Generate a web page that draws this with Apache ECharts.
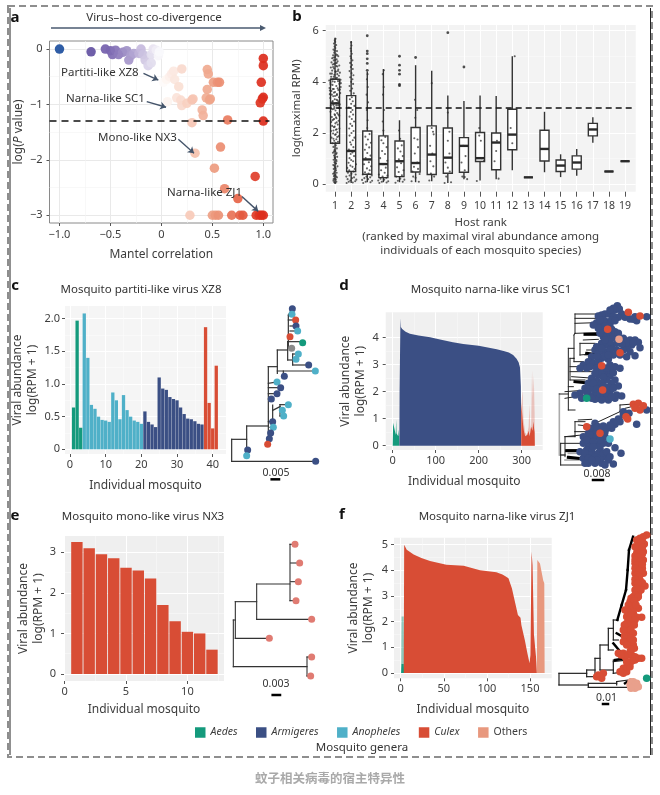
<!DOCTYPE html>
<html><head><meta charset="utf-8">
<style>html,body{margin:0;padding:0;background:#fff}#c{width:660px;height:795px}</style>
<script src="https://cdn.jsdelivr.net/npm/echarts@6/dist/echarts.min.js"></script>
</head><body><div id="c"></div>
<script>
const FONT='"Noto Sans",sans-serif';
const GENUS=['Aedes','Armigeres','Anopheles','Culex','Others'];
const GCOL=['#149a7c','#3b4f84','#4fb0c8','#d84d35','#e8987e','#8a8a8a','#e07b72','#e9a08c'];

// Panel a
const mantelPoints=[[-1,0],[-.69,-.05],[-.55,0],[-.5,-.03],[-.48,-.1],[-.45,-.02],[-.42,-.1],[-.38,-.06],[-.34,-.03],[-.32,-.2],[-.3,-.12],[-.27,-.08],[-.22,-.08],[-.2,0],[-.18,-.1],[-.16,-.2],[-.13,-.3],[-.1,-.1],[-.1,-.25],[-.08,0],[-.05,-.02],[-.03,-.12],[-.02,-.05],[.02,-.6],[.05,-.55],[.08,-.5],[.1,-.45],[.12,-.4],[.13,-.55],[.17,-.68],[.2,-.36],[.06,-.95],[.15,-.88],[.19,-.92],[.2,-1.02],[.25,-.98],[.3,-.92],[.31,-.9],[.3,-1.33],[.4,-1.1],[.41,-1.2],[.45,-.37],[.46,-.45],[.45,-.73],[.44,-.88],[.47,-.92],[.48,-.9],[.51,-.6],[.55,-.6],[.57,-.6],[.65,-1.28],[.58,-1.77],[.33,-1.88],[.52,-2.15],[.62,-2.52],[.75,-2.7],[.92,-2.3],[.28,-3],[.5,-3],[.53,-3],[.56,-3],[.69,-3],[.77,-3],[.8,-3],[.93,-3],[.96,-3],[.98,-3],[1,-3],[1,-.17],[1,-.3],[.98,-.6],[1,-.87],[.99,-.9],[.97,-.97],[1,-1.3]];
const mantelArrows=[[-.176,-.44,-.03,-.56],[-.144,-.95,.046,-1.05],[.166,-1.63,.32,-1.88],[.79,-2.66,.95,-2.93]];

// Panel b: [rank, low whisker, q1, median, q3, high whisker]
const hostBoxes=[[1,.02,1.6,3.16,4.1,5.72],[2,.05,.5,1.3,3.46,5.6],[3,.08,.39,.97,2.08,4.4],[4,.08,.26,.79,1.89,4.5],[5,.08,.3,.9,1.69,2.5],[6,.08,.48,.83,2.22,4.65],[7,.12,.38,1.16,2.28,4.43],[8,.05,.43,1.04,2.2,3.47],[9,.2,.47,1.5,1.82,3.25],[10,.15,.89,1.02,2.02,3.47],[11,.2,.57,1.63,2,3.45],[12,.55,1.35,1.94,2.93,5],[13,.27,.27,.27,.27,.27],[14,.47,.91,1.38,2.11,2.83],[15,.28,.5,.73,.95,1.17],[16,.33,.59,.85,1.11,1.38],[17,1.62,1.89,2.14,2.38,2.62],[18,.5,.5,.5,.5,.5],[19,.9,.9,.9,.9,.9]];
const hostOutliers=[[3,4.45],[3,4.72],[3,4.9],[3,5.1],[3,5.2],[3,5.8],[5,3.85],[5,3.9],[5,4.3],[5,4.45],[5,4.65],[5,5],[6,4.95],[8,5.92],[9,4.58]];
const rank1Dots=[[1.02,.05],[.95,.08],[1.08,.1],[.9,.14],[1.05,.18],[.98,.22],[1.12,.27],[.93,.31],[1.03,.36],[.88,.41],[1.1,.45],[.97,.5],[1.06,.55],[.92,.6],[1.01,.66],[1.15,.7],[.89,.75],[1.04,.8],[.96,.86],[1.09,.9],[.91,.96],[1,1.02],[1.13,1.07],[.94,1.12],[1.07,1.18],[.87,1.23],[1.02,1.29],[.97,1.34],[1.11,1.4],[.9,1.46],[1.05,1.52],[.84,1.6],[1.18,1.66],[.95,1.7],[1.08,1.76],[.78,1.82],[1.24,1.88],[1,1.93],[.88,1.98],[1.14,2.03],[.75,2.08],[1.05,2.13],[1.27,2.18],[.93,2.23],[.82,2.28],[1.17,2.33],[1.02,2.38],[.76,2.43],[1.22,2.48],[.9,2.53],[1.09,2.58],[.8,2.63],[1.26,2.68],[.97,2.73],[1.13,2.78],[.72,2.83],[1.03,2.88],[.86,2.93],[1.2,2.98],[.95,3.02],[.74,3.07],[1.29,3.12],[1.07,3.17],[.83,3.22],[1.16,3.27],[.98,3.32],[.7,3.37],[1.25,3.4],[.89,3.44],[1.11,3.48],[.68,3.52],[1.32,3.56],[1,3.6],[.78,3.64],[1.2,3.68],[.92,3.72],[.66,3.76],[1.35,3.8],[1.08,3.84],[.84,3.88],[1.27,3.92],[.71,3.96],[.98,4],[1.18,4.03],[.64,4.05],[1.34,4.08],[.88,4.12],[1.12,4.16],[.76,4.2],[1.24,4.24],[.96,4.28],[.7,4.32],[1.3,4.36],[1.05,4.4],[.82,4.44],[1.2,4.48],[.94,4.52],[.74,4.56],[1.14,4.6],[1.26,4.64],[.86,4.68],[1.03,4.72],[.78,4.76],[1.16,4.8],[.92,4.84],[1.1,4.88],[.82,4.92],[1,4.96],[1.2,5],[.88,5.04],[1.06,5.08],[.95,5.14],[1.12,5.2],[.9,5.26],[1.02,5.32],[.97,5.38],[1.07,5.44],[.93,5.5],[1.01,5.56],[.98,5.62],[1.03,5.68],[1.2,3.08],[.8,3.5],[.9,2.1],[1.1,2.42],[1,3.45],[1.16,3.75],[.85,4.02],[1,2.7],[.9,3.1],[1.1,3.3],[1.05,1.95],[.94,2.55],[1.22,3.22],[.78,2.95],[.86,3.72],[1.14,4.3],[.96,.35],[1.04,.62],[1.06,.3],[.98,1.05],[.72,3.9],[.76,4.1],[.68,3.66],[1.3,3.7],[1.28,4.02],[1.36,3.95],[.8,4.32],[.88,4.58],[1.08,4.62],[1.18,4.42],[1.1,4.74],[.9,4.95],[1.14,5.05],[.94,4.7],[1.02,4.85],[.98,5.22],[1.04,5.02],[1.02,4.4],[.92,4.2],[1.06,4.14],[.84,2.5],[1.1,2.15],[1.2,2.72],[.94,2.95],[1.06,2.62],[.86,3.25],[1.12,3.52],[.93,3.58],[1.08,3.08],[.98,2.25],[1.14,1.85],[.9,1.78],[1.03,1.62],[.96,.72],[1.08,.95],[.93,1.28],[1.1,1.22],[.94,.44],[1.06,.82],[.91,.2]];
const rank2Dots=[[1.72,.05],[2.1,.07],[1.85,.1],[2.25,.12],[1.95,.15],[2.32,.18],[1.78,.2],[2.05,.24],[2.18,.27],[1.7,.3],[1.9,.34],[2.28,.38],[2.02,.41],[1.8,.45],[2.14,.5],[1.88,.55],[2.22,.6],[1.76,.64],[2.08,.68],[1.95,.73],[2.3,.78],[1.84,.84],[2.12,.9],[2,.95],[1.9,1.02],[2.18,1.1],[1.97,1.18],[2.08,1.24],[1.86,1.36],[2.14,1.45],[2,1.55],[1.94,1.64],[2.1,1.72],[2.2,1.82],[1.9,1.9],[2.02,2],[2.15,2.08],[1.88,2.18],[2.06,2.28],[1.95,2.36],[2.18,2.45],[2.04,2.55],[1.9,2.64],[2.12,2.72],[1.98,2.82],[2.08,2.9],[1.86,3],[2.2,3.06],[2,3.14],[2.1,3.24],[1.92,3.32],[2.04,3.4],[2.16,3.55],[1.94,3.65],[2.06,3.74],[1.9,3.84],[2.12,3.92],[2,4],[2.08,4.1],[1.94,4.18],[2.14,4.26],[2.02,4.34],[1.9,4.42],[2.1,4.5],[1.98,4.58],[2.05,4.66],[1.94,4.74],[2.08,4.84],[2,4.92],[1.96,5],[2.04,5.1],[2,5.2],[1.97,5.3],[2.02,5.42],[2,5.54]];
const rank3Dots=[[2.75,.05],[3.2,.08],[2.9,.1],[3.3,.14],[2.68,.17],[3.05,.2],[2.82,.24],[3.18,.27],[2.95,.3],[3.28,.34],[2.72,.38],[3.08,.42],[2.86,.47],[3.15,.55],[2.98,.62],[3.24,.7],[2.8,.78],[3.1,.86],[2.9,1.02],[3.2,1.12],[3,1.22],[2.85,1.35],[3.12,1.44],[2.94,1.55],[3.22,1.62],[3.04,1.75],[2.88,1.86],[3.14,1.96],[3,2.2],[3.02,2.5],[2.97,2.9],[3.05,3.2],[2.96,3.5],[3.03,3.8],[2.98,4.1],[3.02,4.3]];
const rank4Dots=[[3.75,.05],[4.2,.07],[3.9,.1],[4.3,.12],[3.68,.15],[4.05,.18],[3.82,.22],[4.18,.25],[3.95,.3],[4.25,.34],[3.72,.38],[4.08,.45],[3.86,.55],[4.15,.65],[3.98,.78],[4.24,.92],[3.8,1.02],[4.1,1.18],[3.92,1.3],[4.2,1.45],[4,1.6],[3.88,1.72],[4.12,1.85],[4,2.1],[3.96,2.45],[4.04,2.9],[3.98,3.5],[4.02,3.8],[3.96,4.3],[4.03,4.45]];
const rank5Dots=[[4.75,.06],[5.2,.1],[4.9,.14],[5.3,.18],[5.05,.22],[4.8,.3],[5.15,.35],[4.95,.48],[5.25,.55],[4.85,.66],[5.1,.82],[4.96,.98],[5.2,1.1],[5.06,1.28],[4.9,1.4],[5.14,1.52],[5.04,1.78],[4.97,2.1]];
const rank6Dots=[[5.75,.12],[6.2,.1],[5.85,.3],[6.25,.4],[6,.25],[5.8,.5],[6.15,.6],[5.9,.68],[6.1,.85],[5.95,1.2],[6.15,1.45],[5.92,1.8],[6.12,1.75],[5.98,2.6],[6.1,2.9],[5.96,3.3]];
const rank7Dots=[[6.85,.15],[7.15,.3],[6.95,.42],[7.1,.7],[6.92,.9],[7.04,1.2],[6.9,1.5],[7.12,1.95],[7,2.2],[7.08,2.05],[7,3.95]];
const rank8Dots=[[7.8,.05],[8.2,.08],[7.9,.3],[8.12,.5],[8,.65],[7.85,.85],[8.1,1.2],[8,1.7],[8.1,2.05],[8,2.8]];
const rank9Dots=[[8.9,.3],[9.2,.2],[9.05,.28],[8.85,.85],[9.1,1.1],[8.95,1.5],[9.05,.55]];
const rank10Dots=[[9.8,.13],[10.25,.92],[10.1,1.02],[9.95,1.9],[10.05,1.7],[9.95,2.2]];
const rank11Dots=[[11.15,.22],[11,1.3],[10.9,.9],[11.05,1.7]];
const rank12Dots=[[12,1.6],[11.9,2.2],[12.15,5]];

// Panels c-f bars and areas
const xz8Values=[.64,1.97,.33,2.08,1.4,.68,.62,.5,.45,.44,.42,.87,.75,.46,.83,.6,.5,.44,.42,.39,.58,.42,.38,.34,1.1,.93,.91,.8,.77,.75,.64,.54,.47,.46,.43,.39,.38,1.87,.71,.32,1.28];
const xz8Genus=[0,0,0,2,2,2,2,2,2,2,2,2,2,2,2,2,2,2,2,2,1,1,1,1,1,1,1,1,1,1,1,1,1,1,1,1,1,3,3,3,3];
const nx3Values=[3.25,3.1,2.95,2.85,2.62,2.55,2.35,1.7,1.3,1.04,1,.6];
const sc1Aedes=[[0,0],[1,.85],[3,.7],[5,.55],[7,.4],[8,.97],[9,.45],[11,.5],[13,.35],[14,.6],[15,.4],[15.5,0]];
const sc1Armigeres=[[15.5,0],[16,2],[17.5,2],[18,4.72],[19,4.4],[22,4.32],[30,4.22],[40,4.15],[60,4.08],[87,4.02],[110,3.93],[140,3.83],[164,3.77],[200,3.7],[242,3.57],[260,3.5],[270,3.45],[280,3.36],[288,3.22],[293,3.08],[296,2.9],[298,2.2],[299,0]];
const sc1CulexPale=[[299,0],[299,1.55],[302,2.05],[304,1],[308,.5],[312,.4],[316,.7],[318,1.55],[320,.6],[322,.8],[324,2.8],[326,1.8],[328,2.6],[330,1.2],[330.5,0]];
const sc1Culex=[[299,0],[299,1.55],[301,1.2],[303,.8],[305,.55],[308,.35],[311,.3],[313,.4],[316,.55],[318,.35],[320,.5],[322,.7],[325,.55],[327,.9],[329,.6],[330,.5],[330.5,0]];
const zj1AnoPale=[[.5,0],[1,2.2],[3.5,2.2],[4,0]];
const zj1Ano=[[.5,0],[1,.35],[3.5,.35],[4,0]];
const zj1Culex=[[3.5,0],[4,5],[7,4.8],[15,4.62],[24,4.48],[34,4.36],[53,4.22],[73,4.18],[92,4],[111,3.92],[118,3.84],[121,3.78],[125,3.69],[129,3.3],[133,2.71],[136,2.26],[139,2.15],[140,1.87],[144,1.29],[147,.77],[149.5,.38],[150.5,.7],[151.2,.64],[151.8,4.73],[153,4.2],[154,4.14],[154.6,1.5],[157,.62],[158,0]];
const zj1Others=[[158,0],[158.5,4.4],[161.6,4.27],[165.4,3.6],[166.6,3.5],[167,0]];

// Trees: [branch position, tip order, genus] and [x1, y1, x2, y2]
const treeCTips=[[877,116,1],[876,133,2],[887,150,3],[888,168,1],[893,183,2],[870,200,3],[908,218,0],[875,235,5],[895,252,2],[888,268,2],[926,285,1],[946,303,2],[853,319,1],[831,336,2],[842,353,1],[831,371,1],[814,387,1],[865,404,2],[847,421,2],[851,438,2],[818,455,1],[820,472,2],[812,489,1],[808,506,1],[803,523,3],[743,540,1],[740,557,2],[947,574,1]];
const treeCEdges=[[695,508,695,574],[695,574,947,574],[695,508,740,508],[740,468,740,548],[740,548,743,540],[740,468,805,468],[805,290,805,523],[805,290,832,290],[832,240,832,310],[832,240,863,240],[863,215,863,270],[863,215,908,215],[865,135,865,235],[865,135,877,116],[865,150,887,150],[870,168,888,168],[870,183,893,183],[865,200,870,200],[863,270,878,270],[878,252,878,285],[878,252,895,252],[878,268,888,268],[878,285,926,285],[832,303,946,303],[850,303,850,319],[805,340,831,336],[805,353,842,353],[805,371,831,371],[805,387,814,387],[818,405,818,470],[818,421,840,410],[840,404,865,404],[840,404,840,438],[840,421,847,421],[840,438,851,438],[805,455,818,455],[810,472,820,472],[805,489,812,489],[805,506,808,506]];
const treeDTips=[[187,17,1],[193,27,1],[180,30,1],[170,38,1],[150,42,1],[160,42,1],[200,42,1],[210,52,1],[225,57,1],[240,50,1],[275,50,1],[245,62,1],[190,52,1],[125,68,1],[140,72,1],[155,65,1],[165,72,1],[140,85,1],[130,85,1],[150,98,1],[175,98,1],[165,108,1],[205,115,1],[225,120,1],[240,120,1],[250,127,1],[255,143,1],[230,135,1],[215,140,1],[205,150,1],[240,167,1],[215,170,1],[185,150,1],[170,140,1],[155,135,1],[140,130,1],[120,150,1],[130,160,1],[150,155,1],[175,165,1],[160,178,1],[140,175,1],[110,170,1],[100,185,1],[85,195,1],[75,205,1],[95,205,1],[115,190,1],[165,195,1],[180,200,1],[195,205,1],[150,220,1],[165,228,1],[180,240,1],[190,258,1],[170,250,1],[155,240,1],[130,225,1],[110,235,1],[100,250,1],[90,265,1],[110,265,1],[130,255,1],[165,275,1],[185,285,1],[200,288,1],[120,280,1],[100,282,1],[75,280,1],[60,285,1],[150,290,1],[130,295,1],[160,300,1],[180,295,1],[120,298,1],[80,295,1],[175,25,1],[165,30,1],[140,45,1],[130,48,1],[175,50,1],[215,45,1],[235,58,1],[145,60,1],[135,60,1],[170,60,1],[180,62,1],[115,75,1],[150,78,1],[170,88,1],[180,95,1],[160,95,1],[145,110,1],[135,100,1],[175,112,1],[190,100,1],[215,128,1],[235,128,1],[200,132,1],[185,130,1],[165,125,1],[150,120,1],[125,140,1],[195,165,1],[225,155,1],[165,150,1],[140,145,1],[125,170,1],[150,168,1],[160,165,1],[130,188,1],[105,200,1],[125,205,1],[150,205,1],[165,210,1],[140,215,1],[120,220,1],[155,205,1],[175,218,1],[145,232,1],[125,242,1],[140,250,1],[115,250,1],[160,262,1],[145,258,1],[175,265,1],[125,268,1],[95,275,1],[135,283,1],[155,280,1],[110,295,1],[140,300,1],[170,290,1],[275,330,1],[222,340,1],[205,345,1],[190,357,1],[180,373,1],[245,373,1],[170,385,1],[155,385,1],[120,370,1],[130,380,1],[115,395,1],[100,400,1],[85,410,1],[110,415,1],[150,410,1],[145,430,1],[180,443,1],[198,460,1],[125,435,1],[100,435,1],[85,430,1],[95,450,1],[110,455,1],[130,460,1],[150,470,1],[160,480,1],[175,492,1],[140,490,1],[120,490,1],[100,490,1],[85,475,1],[75,455,1],[205,335,1],[195,365,1],[175,365,1],[165,375,1],[145,378,1],[135,390,1],[150,395,1],[120,385,1],[105,385,1],[105,405,1],[125,410,1],[135,420,1],[95,420,1],[115,425,1],[160,430,1],[135,445,1],[115,440,1],[105,465,1],[120,470,1],[135,475,1],[145,460,1],[90,460,1],[100,475,1],[155,455,1],[125,480,1],[165,470,1],[110,480,1],[90,490,1],[150,495,1],[165,417,2],[95,295,0],[235,313,3],[250,310,3],[265,317,3],[240,325,3],[255,330,3],[213,350,3],[218,357,3],[135,400,3],[95,380,3],[220,37,3],[255,48,3],[158,88,3],[195,158,3],[140,197,3],[143,270,3],[192,118,7]];
const treeDEdges=[[60,42,150,42],[60,42,60,100],[60,55,125,55],[60,70,125,68],[60,100,125,98],[57,105,57,185],[57,105,60,100],[75,130,120,130],[75,130,75,165],[75,165,130,160],[85,120,130,118],[95,150,150,150],[57,185,85,185],[45,200,75,200],[45,175,45,240],[45,240,90,240],[45,215,110,215],[50,230,120,235],[40,260,55,260],[30,275,100,270],[30,295,90,285],[55,175,57,175],[45,175,57,175],[40,145,57,145],[40,145,40,330],[13,282,40,282],[40,330,60,330],[60,365,60,395],[60,365,90,365],[70,360,110,358],[70,375,100,378],[60,395,120,395],[195,315,195,335],[195,315,235,312],[195,335,225,340],[210,325,250,315],[17,430,85,430],[17,430,17,495],[17,495,85,495],[30,410,80,405],[30,410,30,470],[35,450,80,450],[60,395,60,410],[30,410,60,410],[17,465,30,465],[120,370,195,335],[135,400,190,357]];
const treeDThick=[[95,160,130,165],[60,245,110,250],[90,103,130,103],[35,452,75,452],[40,472,70,475]];
const treeDGrey=[[13,282,13,465],[30,480,80,480],[65,293,95,290],[90,165,120,170],[40,460,65,460],[15,465,30,465]];
const treeFTips=[[275,15,3],[265,20,3],[255,25,3],[245,30,3],[262,35,3],[250,45,3],[268,42,3],[240,50,3],[255,60,3],[265,65,3],[245,70,3],[258,80,3],[248,90,3],[265,90,3],[240,100,3],[255,105,3],[248,115,3],[262,115,3],[240,130,3],[258,130,3],[265,130,3],[245,145,3],[255,150,3],[240,160,3],[270,168,3],[255,170,3],[240,180,3],[250,190,3],[235,200,3],[245,205,3],[225,215,3],[238,225,3],[250,235,3],[225,230,3],[210,240,3],[235,250,3],[260,262,3],[245,262,3],[215,260,3],[230,280,3],[225,290,3],[215,300,3],[220,315,3],[215,330,3],[225,340,3],[235,345,3],[238,355,3],[225,365,3],[205,370,3],[190,370,3],[230,375,3],[250,385,3],[260,385,3],[240,390,3],[225,400,3],[205,415,3],[215,425,3],[205,430,3],[130,435,3],[145,430,3],[140,445,3],[125,440,3],[250,30,3],[258,40,3],[245,55,3],[262,52,3],[252,70,3],[240,78,3],[262,72,3],[248,80,3],[240,90,3],[255,95,3],[245,105,3],[262,103,3],[240,115,3],[252,122,3],[245,135,3],[252,140,3],[240,148,3],[262,158,3],[248,160,3],[258,180,3],[245,175,3],[240,195,3],[250,200,3],[228,205,3],[238,212,3],[220,225,3],[232,238,3],[243,225,3],[218,245,3],[228,255,3],[222,270,3],[240,270,3],[215,280,3],[238,285,3],[208,285,3],[228,300,3],[205,300,3],[235,310,3],[208,318,3],[228,325,3],[205,335,3],[235,330,3],[215,345,3],[228,358,3],[220,375,3],[210,380,3],[198,375,3],[240,380,3],[232,392,3],[215,410,3],[225,410,3],[195,425,3],[135,440,3],[215,395,3],[235,455,7],[245,460,7],[225,465,7],[235,472,7],[250,470,7],[240,475,7],[228,455,7],[230,462,7],[240,465,7],[245,470,7],[228,475,7],[275,445,0]];
const treeFEdges=[[12,430,12,465],[12,430,95,430],[12,465,100,465],[100,460,100,472],[100,460,185,460],[100,472,215,472],[185,455,185,465],[185,455,235,448],[95,420,95,440],[95,420,120,420],[95,440,115,440],[120,385,120,430],[120,385,135,385],[135,345,135,420],[135,345,160,345],[135,420,175,420],[160,295,160,360],[160,295,175,295],[175,270,175,330],[175,390,175,430],[175,395,220,390],[175,430,210,425],[160,360,175,360],[175,270,190,270],[175,330,190,330]];
const treeFThick=[[234,20,222,60],[222,60,218,120],[218,120,213,180],[213,180,200,225],[200,225,187,270],[175,340,200,370],[180,390,210,385],[185,310,200,318],[210,460,225,450]];
const treeETips=[[885,133,6],[899,189,6],[895,245,6],[888,302,6],[935,358,6],[808,415,6],[935,471,6],[932,528,6]];
const treeEEdges=[[700,360,700,500],[700,500,921,500],[921,471,921,528],[921,471,935,471],[921,528,932,528],[700,360,706,360],[706,305,706,415],[706,415,808,415],[706,305,770,305],[770,252,770,358],[770,358,935,358],[770,252,870,252],[870,133,870,302],[870,133,885,133],[872,189,899,189],[872,245,895,245],[870,302,888,302]];

// Scale bars: [x1,y,x2,y]
const scaleC=[[815,628,837,628]],scaleD=[[114,540,144,540]],scaleE=[[818,585,840,585]],scaleF=[[144,522,159,522]];

const chart=echarts.init(document.getElementById('c'),null,{renderer:'canvas'});
const grids=[],xAxes=[],yAxes=[],series=[];
const M=s=>String(s).replace('-','\u2212');
function axisBase(o){
  return {type:'value',gridIndex:o.g,min:o.r[0],max:o.r[1],inverse:!!o.inverse,
    axisLine:{show:false,onZero:false},
    axisTick:{show:true,length:o.tick||3,lineStyle:{color:o.tickColor||'#555',width:1},customValues:o.ticks},
    axisLabel:{show:true,color:'#3d3d3d',fontSize:o.fs||11,fontFamily:FONT,margin:o.margin||5,customValues:o.ticks,formatter:o.fmt||(v=>String(v)),hideOverlap:false},
    splitLine:{show:true,lineStyle:{color:o.lineCol,width:o.lineW||1}},
    name:o.name,nameLocation:'middle',nameGap:o.gap,nameRotate:o.rot,
    nameTextStyle:Object.assign({color:'#3d3d3d',fontSize:o.nameFs||12,fontFamily:FONT,lineHeight:o.lh||15},o.rich?{rich:o.rich}:{})};
}
function minorAxis(g,r,vals,col){
  return {type:'value',gridIndex:g,min:r[0],max:r[1],axisLine:{show:false,onZero:false},axisLabel:{show:false},
    axisTick:{show:false,customValues:vals},splitLine:{show:true,lineStyle:{color:col,width:.6}}};
}
function panel(p){
  const g=grids.length;
  grids.push({left:p.l,top:p.t,width:p.w,height:p.h,show:true,backgroundColor:p.bg,borderWidth:p.border?1:0,borderColor:p.border||'transparent',containLabel:false});
  const xi=xAxes.length,yi=yAxes.length;
  xAxes.push(axisBase(Object.assign({g,lineCol:p.major},p.x)));
  yAxes.push(axisBase(Object.assign({g,lineCol:p.major,rot:90},p.y)));
  if(p.x.minor)xAxes.push(minorAxis(g,p.x.r,p.x.minor,p.minorCol));
  if(p.y.minor)yAxes.push(minorAxis(g,p.y.r,p.y.minor,p.minorCol));
  return {xAxisIndex:xi,yAxisIndex:yi};
}
function treePanel(l,t,w,h,xr,yr){
  const g=grids.length;
  grids.push({left:l,top:t,width:w,height:h,show:false});
  const xi=xAxes.length,yi=yAxes.length;
  xAxes.push({type:'value',gridIndex:g,min:xr[0],max:xr[1],show:false,splitLine:{show:false}});
  yAxes.push({type:'value',gridIndex:g,min:yr[0],max:yr[1],inverse:true,show:false,splitLine:{show:false}});
  return {xAxisIndex:xi,yAxisIndex:yi};
}
function edges(ax,data,color,width,z){
  series.push(Object.assign({type:'custom',silent:true,z:z||2,data,encode:{x:[0,2],y:[1,3]},clip:false,
    renderItem(params,api){
      const a=api.coord([api.value(0),api.value(1)]),b=api.coord([api.value(2),api.value(3)]);
      return {type:'line',shape:{x1:a[0],y1:a[1],x2:b[0],y2:b[1]},style:{stroke:color,lineWidth:width,lineCap:'square'}};
    }},ax));
}
function tips(ax,data,size,op){
  series.push(Object.assign({type:'scatter',silent:true,z:3,data,symbolSize:size,clip:false,
    itemStyle:{color:p=>GCOL[p.value[2]],opacity:op||1}},ax));
}
function area(ax,name,data,color,op){
  series.push(Object.assign({type:'line',name,data,showSymbol:false,silent:true,z:2,smooth:false,
    lineStyle:{width:0,color},itemStyle:{color},areaStyle:{color,opacity:op==null?1:op}},ax));
}
function bars(ax,vals,gen,w,extra){
  GENUS.forEach((n,i)=>{
    const d=[];vals.forEach((v,k)=>{if(gen[k]===i)d.push([k+1,v]);});
    if(d.length)series.push(Object.assign({type:'bar',name:n,data:d,barWidth:w,barGap:'-100%',silent:true,z:2,itemStyle:{color:GCOL[i]}},ax));
  });
}

// a
const axA=panel({l:49.5,t:41,w:223.5,h:182,bg:'#fff',border:'#8a8a8a',major:'#e9e9e9',minorCol:'#f3f3f3',
  x:{r:[-1.098,1.095],ticks:[-1,-.5,0,.5,1],minor:[-.75,-.25,.25,.75],fmt:v=>v===0?'0':M(v.toFixed(1)),name:'Mantel correlation',gap:24,margin:6},
  y:{r:[-3.14,.145],ticks:[-3,-2,-1,0],minor:[-2.5,-1.5,-.5],fmt:M,name:'{r|log(}{i|P}{r| value)}',gap:23,margin:7,rich:{r:{fontSize:12,color:'#3d3d3d',fontFamily:FONT},i:{fontSize:12,fontStyle:'italic',color:'#3d3d3d',fontFamily:FONT}}}});
series.push(Object.assign({type:'scatter',name:'Mantel',data:mantelPoints,symbolSize:9.5,z:3,silent:true,itemStyle:{opacity:.92},
  markLine:{silent:true,symbol:'none',animation:false,label:{show:false},z:5,
    data:[[{coord:[-1.098,-1.3],lineStyle:{color:'#111',width:1.6,type:[7,5]},symbol:'none'},{coord:[1.06,-1.3],symbol:'none'}]].concat(
      mantelArrows.map(a=>[{coord:[a[0],a[1]],lineStyle:{color:'#44546a',width:1.4,type:'solid'},symbol:'none'},{coord:[a[2],a[3]],symbol:'arrow',symbolSize:6}]))}},axA));

// b
const axB=panel({l:325.7,t:25,w:310,h:166.7,bg:'#f3f3f3',major:'#ffffff',minorCol:'#fafafa',
  x:{r:[.42,19.66],ticks:hostBoxes.map(b=>b[0]),fs:10.5,tick:5,margin:9,
     name:'Host rank\n(ranked by maximal viral abundance among\nindividuals of each mosquito species)',gap:24,lh:14,nameFs:11.5},
  y:{r:[-.29,6.22],ticks:[0,2,4,6],minor:[1,3,5],name:'log(maximal RPM)',gap:21,tick:3,nameFs:11.5,margin:7}});
series.push(Object.assign({type:'custom',name:'Host box',silent:true,z:2,data:hostBoxes,encode:{x:0,y:[1,2,3,4,5]},
  renderItem(params,api){
    const x=api.value(0),P=(a,b)=>api.coord([a,b]),hw=.28;
    const s={stroke:'#333',lineWidth:1.4,fill:'#fff'};
    const lo=P(x,api.value(1)),hi=P(x,api.value(5)),q1=P(x-hw,api.value(2)),q3=P(x+hw,api.value(4)),m1=P(x-hw,api.value(3)),m2=P(x+hw,api.value(3));
    const qlo=P(x,api.value(2)),qhi=P(x,api.value(4));
    return {type:'group',children:[
      {type:'line',shape:{x1:lo[0],y1:lo[1],x2:qlo[0],y2:qlo[1]},style:{stroke:'#333',lineWidth:1.4}},
      {type:'line',shape:{x1:qhi[0],y1:qhi[1],x2:hi[0],y2:hi[1]},style:{stroke:'#333',lineWidth:1.4}},
      {type:'rect',shape:{x:q1[0],y:q3[1],width:q3[0]-q1[0],height:q1[1]-q3[1]},style:s},
      {type:'line',shape:{x1:m1[0],y1:m1[1],x2:m2[0],y2:m2[1]},style:{stroke:'#2a2a2a',lineWidth:2.4}}
    ]};
  }},axB));
const allDots=[].concat(rank1Dots,rank2Dots,rank3Dots,rank4Dots,rank5Dots,rank6Dots,rank7Dots,rank8Dots,rank9Dots,rank10Dots,rank11Dots,rank12Dots);
series.push(Object.assign({type:'scatter',name:'Individuals',silent:true,z:3,data:allDots,symbolSize:2.1,itemStyle:{color:'#2f2f2f',opacity:.75}},axB));
series.push(Object.assign({type:'scatter',name:'Outliers',silent:true,z:3,data:hostOutliers,symbolSize:2.8,itemStyle:{color:'#222'},
  markLine:{silent:true,symbol:'none',animation:false,label:{show:false},lineStyle:{color:'#111',width:1.5,type:[6,4]},data:[{yAxis:3}]}},axB));

// c
const axC=panel({l:65,t:306,w:161,h:148,bg:'#f5f5f5',major:'#ffffff',minorCol:'#fbfbfb',
  x:{r:[-1.4,43.73],ticks:[0,10,20,30,40],minor:[5,15,25,35],name:'Individual mosquito',gap:24,nameFs:12},
  y:{r:[-.072,2.194],ticks:[0,.5,1,1.5,2],minor:[.25,.75,1.25,1.75],fmt:v=>v===0?'0':v.toFixed(1),name:'Viral abundance\nlog(RPM + 1)',gap:25,nameFs:12}});
bars(axC,xz8Values,xz8Genus,3.3);
const trC=treePanel(230,303.33,90,180,[690,960],[100,640]);
edges(trC,treeCEdges,'#333',1.2);
edges(trC,scaleC,'#000',2.5);
tips(trC,treeCTips,7);

// d
const axD=panel({l:385.7,t:312.3,w:157,h:137.7,bg:'#f0f0f0',major:'#ffffff',minorCol:'#f8f8f8',
  x:{r:[-16.3,348.8],ticks:[0,100,200,300],minor:[50,150,250],name:'Individual mosquito',gap:24},
  y:{r:[-.16,4.94],ticks:[0,1,2,3,4],minor:[.5,1.5,2.5,3.5],margin:7,name:'Viral abundance\nlog(RPM + 1)',gap:18}});
area(axD,'Aedes',sc1Aedes,GCOL[0]);
area(axD,'Armigeres',sc1Armigeres,GCOL[1]);
area(axD,'Culex',sc1CulexPale,GCOL[3],.28);
area(axD,'Culex',sc1Culex,GCOL[3]);
const trD=treePanel(555,300,100,200,[0,300],[0,600]);
edges(trD,treeDGrey,'#aaa',1.6,1);
edges(trD,treeDEdges,'#222',1);
edges(trD,treeDThick,'#000',3);
edges(trD,scaleD,'#000',2.5);
tips(trD,treeDTips,7.5);

// e
const axE=panel({l:64,t:536,w:160,h:145,bg:'#efefef',major:'#ffffff',minorCol:'#f8f8f8',
  x:{r:[-.05,12.98],ticks:[0,5,10],minor:[2.5,7.5,12.5],name:'Individual mosquito',gap:21},
  y:{r:[-.172,3.4],ticks:[0,1,2,3],minor:[.5,1.5,2.5],margin:8,name:'Viral abundance\nlog(RPM + 1)',gap:18}});
bars(axE,nx3Values,nx3Values.map(()=>3),11.4);
const trE=treePanel(230,540,86.67,160,[690,950],[120,600]);
edges(trE,treeEEdges,'#333',1.1);
edges(trE,scaleE,'#000',2.5);
tips(trE,treeETips,7);

// f
const axF=panel({l:394,t:537.7,w:157.7,h:140.6,bg:'#f0f0f0',major:'#ffffff',minorCol:'#f8f8f8',
  x:{r:[-7.8,175.2],ticks:[0,50,100,150],minor:[25,75,125],name:'Individual mosquito',gap:24},
  y:{r:[-.206,5.27],ticks:[0,1,2,3,4,5],minor:[.5,1.5,2.5,3.5,4.5],margin:6,name:'Viral abundance\nlog(RPM + 1)',gap:18}});
area(axF,'Anopheles',zj1AnoPale,GCOL[0],.45);
area(axF,'Anopheles',zj1Ano,GCOL[0]);
area(axF,'Culex',zj1Culex,GCOL[3]);
area(axF,'Others',zj1Others,GCOL[4]);
const trF=treePanel(555,530,100,176.67,[0,300],[0,530]);
edges(trF,treeFEdges,'#222',1.2);
edges(trF,treeFThick,'#000',2.4,2);
tips(trF,treeFTips,7.5);
edges(trF,scaleF,'#000',2.5);

function T(x,y,text,o){
  return {type:'text',x,y,z:100,silent:true,style:Object.assign({text,fontFamily:FONT,fontSize:11.5,fill:'#333',textAlign:'center',textVerticalAlign:'middle'},o||{})};
}
const graphic=[
  {type:'rect',silent:true,z:0,shape:{x:8,y:6,width:644,height:751},style:{fill:'none',stroke:'#8e8e8e',lineWidth:2,lineDash:[7,4]}},
  {type:'line',silent:true,z:0,shape:{x1:10,y1:8,x2:10,y2:755},style:{stroke:'#222',lineWidth:1}},
  {type:'line',silent:true,z:0,shape:{x1:650.5,y1:8,x2:650.5,y2:755},style:{stroke:'#222',lineWidth:1}},
  T(15,18,'a',{fontSize:15,fontWeight:'bold',fill:'#111',textAlign:'center'}),
  T(297,17,'b',{fontSize:15,fontWeight:'bold',fill:'#111'}),
  T(15,286,'c',{fontSize:15,fontWeight:'bold',fill:'#111'}),
  T(344,286,'d',{fontSize:15,fontWeight:'bold',fill:'#111'}),
  T(15,516,'e',{fontSize:15,fontWeight:'bold',fill:'#111'}),
  T(342,515,'f',{fontSize:15,fontWeight:'bold',fill:'#111'}),
  T(154,18,'Virus\u2013host co-divergence',{fontSize:11.5}),
  {type:'line',silent:true,shape:{x1:51,y1:28,x2:262,y2:28},style:{stroke:'#4a5a70',lineWidth:1.4}},
  {type:'polygon',silent:true,shape:{points:[[266,28],[260,25],[260,31]]},style:{fill:'#4a5a70'}},
  T(61,72.7,'Partiti-like XZ8',{textAlign:'left',fontSize:11.5}),
  T(66,99,'Narna-like SC1',{textAlign:'left',fontSize:11.5}),
  T(98,138,'Mono-like NX3',{textAlign:'left',fontSize:11.5}),
  T(167,193,'Narna-like ZJ1',{textAlign:'left',fontSize:11.5}),
  T(141,290,'Mosquito partiti-like virus XZ8',{fontSize:11.5}),
  T(491,290,'Mosquito narna-like virus SC1',{fontSize:11.5}),
  T(143,517,'Mosquito mono-like virus NX3',{fontSize:11.5}),
  T(497,517,'Mosquito narna-like virus ZJ1',{fontSize:11.5}),
  T(276,473,'0.005',{fontSize:10.5}),
  T(597,474,'0.008',{fontSize:10.5}),
  T(276,684,'0.003',{fontSize:10.5}),
  T(606.5,698,'0.01',{fontSize:10.5}),
  T(362,748,'Mosquito genera',{fontSize:11.5}),
  T(330,778,'\u868a\u5b50\u76f8\u5173\u75c5\u6bd2\u7684\u5bbf\u4e3b\u7279\u5f02\u6027',{fontFamily:'"Noto Sans CJK SC",sans-serif',fontSize:12.5,fontWeight:'bold',fill:'#a9a9a9'})
];

chart.setOption({
  animation:false,backgroundColor:'#fff',textStyle:{fontFamily:FONT},
  grid:grids,xAxis:xAxes,yAxis:yAxes,series,graphic,
  visualMap:{show:false,seriesIndex:0,dimension:0,min:-1,max:1,inRange:{color:['#1d4f9e','#5c4a9e','#7a66b0','#b6a9d4','#ffffff','#f8d0c0','#eea084','#e66448','#dc2c1c']}},
  legend:{show:true,left:190,top:722,icon:'rect',itemWidth:10.5,itemHeight:10.5,itemGap:18.5,selectedMode:false,data:GENUS,
    textStyle:{fontFamily:FONT,fontSize:10.5,color:'#3d3d3d',rich:{i:{fontStyle:'italic',fontFamily:FONT,fontSize:10.5,color:'#3d3d3d'}}},
    formatter:n=>n==='Others'?n:'{i|'+n+'}'}
});
</script></body></html>
